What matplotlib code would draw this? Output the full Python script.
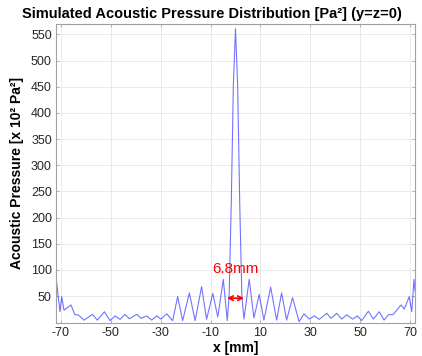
import matplotlib
matplotlib.use("Agg")
import matplotlib.pyplot as plt
import numpy as np

# Values: x in mm, pressure in x 10^2 Pa^2
x_mm = [-72.0, -71.9, -70.4, -69.7, -68.8, -66.0, -64.4, -63.1, -60.7, -57.4,
        -55.4, -52.6, -50.3, -48.3, -46.3, -44.3, -42.6, -39.6, -37.9, -35.6,
        -33.6, -31.6, -29.9, -27.6, -25.2, -23.2, -21.2, -18.5, -16.2, -13.6,
        -11.6, -9.1, -7.1, -4.9, -3.3, -2.55, -1.7, -0.85, 0.0, 0.85,
        1.7, 2.55, 3.4, 5.5, 7.4, 9.5, 11.4, 14.1, 16.5, 18.5,
        20.5, 22.9, 25.5, 27.5, 29.6, 31.6, 33.6, 36.6, 38.3, 40.6,
        42.6, 44.6, 47.0, 48.9, 50.6, 53.3, 55.3, 57.7, 59.6, 61.3,
        63.3, 66.4, 67.7, 69.7, 70.7, 71.6, 72.0]
pressure = [60, 82, 20, 49, 23, 33, 14, 14, 4, 15,
            4, 20, 3, 12, 5.5, 15, 6.6, 15, 7.4, 12,
            4, 12, 6, 16, 3, 49, 3, 56, 3, 68,
            5.5, 55, 10, 82, 3, 50, 227, 455, 561, 455,
            227, 50, 6, 82, 8, 53, 4, 67, 4, 56,
            4, 47, 1, 16, 6, 12, 5.5, 17, 7.4, 17,
            6, 14, 6, 12, 3, 21, 6, 20, 4, 14,
            15, 33, 25, 49, 20, 82, 60]

x_ticks = [-70, -50, -30, -10, 10, 30, 50, 70]
y_ticks = [50, 100, 150, 200, 250, 300, 350, 400, 450, 500, 550]
fwhm_left, fwhm_right = -3.4, 3.4
fwhm_label = "6.8mm"

plt.rcParams['font.family'] = ['Liberation Sans', 'DejaVu Sans']
plt.rcParams['axes.unicode_minus'] = False

fig = plt.figure(figsize=(4.22, 3.56), dpi=100)
ax = fig.add_axes([0.1327, 0.0927, 0.8507, 0.8399])

ax.plot(x_mm, pressure, color='#0000ff', alpha=0.55, linewidth=0.8)

ax.set_xlim(-72, 72)
ax.set_ylim(-1.5, 570)
ax.set_xticks(x_ticks)
ax.set_yticks(y_ticks)
ax.tick_params(direction='in', length=2, width=0.5, color='#999999',
               labelsize=9, labelcolor='#262626', top=True, right=True, pad=3)
ax.grid(True, color='#e6e6e6', linewidth=0.6)
ax.set_axisbelow(True)
for s in ax.spines.values():
    s.set_color('#a0a0a0')
    s.set_linewidth(0.8)

ax.annotate('', xy=(fwhm_left, 46), xytext=(fwhm_right, 46),
            arrowprops=dict(arrowstyle='<->', color='red', lw=1.2,
                            shrinkA=0, shrinkB=0, mutation_scale=8))
ax.text(0, 101, fwhm_label, color='red', fontsize=11, ha='center', va='center')

ax.set_xlabel('x [mm]', fontsize=10, fontweight='bold', labelpad=1)
ax.set_ylabel('Acoustic Pressure [x 10² Pa²]', fontsize=10,
              fontweight='bold', labelpad=5)
fig.text(0.502, 0.962, 'Simulated Acoustic Pressure Distribution [Pa²] (y=z=0)',
         ha='center', va='center', fontsize=10.5, fontweight='bold')

plt.savefig("out.png", dpi=100)
